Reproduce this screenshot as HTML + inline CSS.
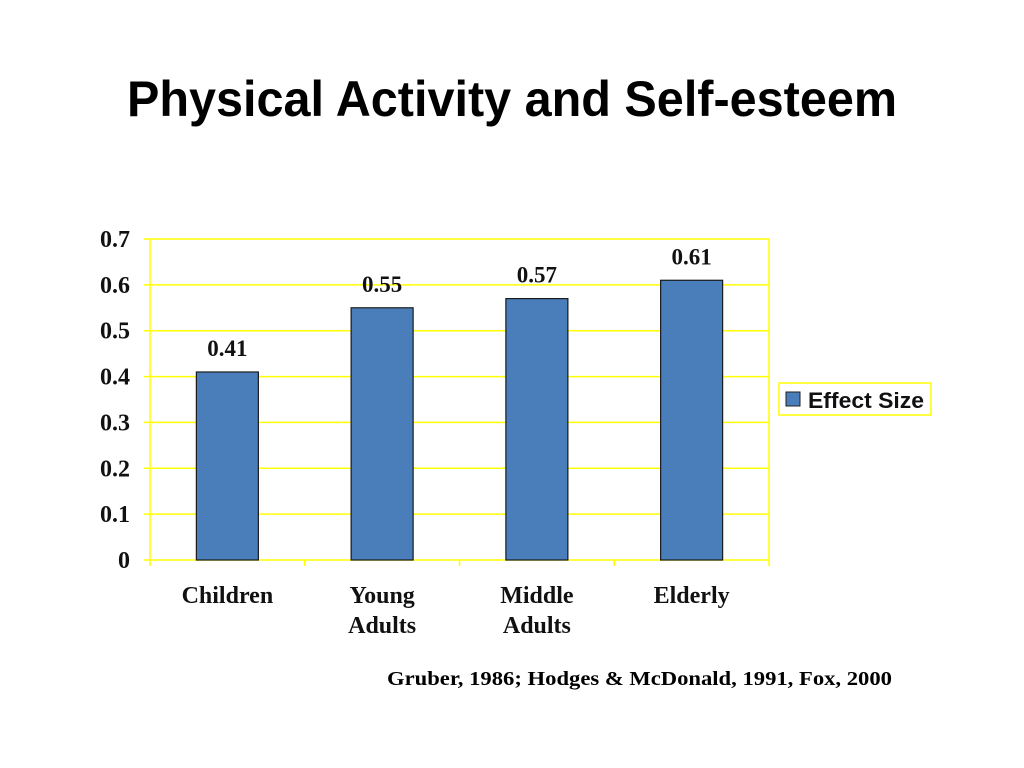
<!DOCTYPE html>
<html><head><meta charset="utf-8"><style>
html,body{margin:0;padding:0;background:#fff;width:1024px;height:768px;overflow:hidden}
svg{display:block}
</style></head><body>
<svg id="chart" width="1024" height="768">
<text x="512" y="116" text-anchor="middle" font-family="Liberation Sans, sans-serif" font-weight="bold" font-size="50" textLength="770" lengthAdjust="spacingAndGlyphs">Physical Activity and Self-esteem</text>
<g id="plot"></g>
<g>
<rect x="779" y="383" width="152" height="32" fill="#fff" stroke="#ffff00" stroke-width="1.5"/>
<rect x="786" y="392" width="14" height="14" fill="#4a7ebb" stroke="#222" stroke-width="1"/>
<text x="808" y="408" font-family="Liberation Sans, sans-serif" font-weight="bold" font-size="22" fill="#111" textLength="116" lengthAdjust="spacingAndGlyphs">Effect Size</text>
</g>
<text x="892" y="685" text-anchor="end" font-family="Liberation Serif, serif" font-weight="bold" font-size="20" fill="#000" textLength="505" lengthAdjust="spacingAndGlyphs">Gruber, 1986; Hodges &amp; McDonald, 1991, Fox, 2000</text>
</svg>
<script>
const categories = [["Children"],["Young","Adults"],["Middle","Adults"],["Elderly"]];
const values = [0.41, 0.55, 0.57, 0.61];
const valueLabels = ["0.41","0.55","0.57","0.61"];
const yTicks = [0,0.1,0.2,0.3,0.4,0.5,0.6,0.7];
const yTickLabels = ["0","0.1","0.2","0.3","0.4","0.5","0.6","0.7"];

const NS="http://www.w3.org/2000/svg";
const X0=150,X1=769,Y0=560,Y1=239,YMAX=0.7;
const y=v=>Y0-(v/YMAX)*(Y0-Y1);
const bw=(X1-X0)/categories.length;
const xc=i=>X0+bw*(i+0.5);
const g=document.getElementById('plot');
function mk(t,a){const e=document.createElementNS(NS,t);for(const k in a)e.setAttribute(k,a[k]);g.appendChild(e);return e;}
const F='Liberation Serif, serif';
yTicks.forEach((v,i)=>{
  const l=mk('line',{x1:144,x2:X1,y1:y(v),y2:y(v),stroke:'#ffff00','stroke-width':1.5});
  
  
  const t=mk('text',{x:130,y:y(v)+8,'text-anchor':'end','font-family':F,'font-weight':'bold','font-size':24,fill:'#111'});
  t.textContent=yTickLabels[i];
  
  
});
const ax=mk('line',{x1:X0,x2:X0,y1:Y1,y2:Y0+6,stroke:'#ffff00','stroke-width':1.5});


const rx=mk('line',{x1:X1,x2:X1,y1:Y1,y2:Y0,stroke:'#ffff00','stroke-width':1.5});


for(let i=1;i<=categories.length;i++){
  const t=mk('line',{x1:X0+bw*i,x2:X0+bw*i,y1:Y0,y2:Y0+6,stroke:'#ffff00','stroke-width':1.5});
  
  
}
values.forEach((v,i)=>{
  const r=mk('rect',{x:xc(i)-31,y:y(v),width:62,height:Y0-y(v),fill:'#4a7ebb',stroke:'#1a1a1a','stroke-width':1.2});
  
  
  const t=mk('text',{x:xc(i),y:y(v)-16,'text-anchor':'middle','font-family':F,'font-weight':'bold','font-size':23,fill:'#111'});
  t.textContent=valueLabels[i];
  
  
  categories[i].forEach((s,j)=>{
    const c=mk('text',{x:xc(i),y:603+j*30,'text-anchor':'middle','font-family':F,'font-weight':'bold','font-size':24,fill:'#111'});
    c.textContent=s;
    
    
  });
});
</script>
</body></html>
